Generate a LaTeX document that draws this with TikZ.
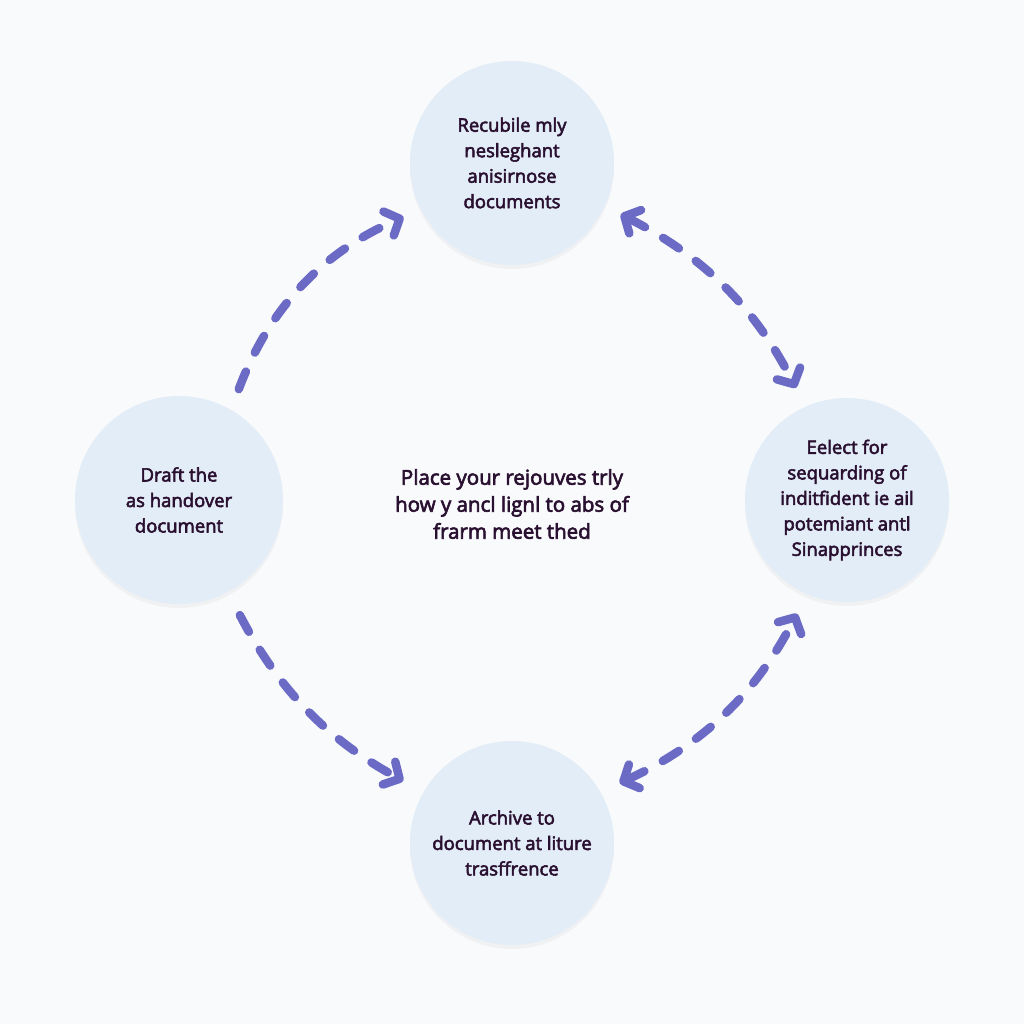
\documentclass[tikz,border=0pt]{standalone}
\usepackage{fontspec}
\setmainfont{Open Sans}[FakeBold=3]
\usetikzlibrary{arrows.meta,shadows}
\definecolor{bg}{HTML}{F8FAFC}
\definecolor{circfill}{HTML}{E3EDF8}
\definecolor{txt}{HTML}{2A1030}
\definecolor{arr}{HTML}{6B6BC6}
\begin{document}
\begin{tikzpicture}[x=1pt,y=-1pt,
  stepcirc/.style={circle, fill=circfill, minimum size=204pt, inner sep=0pt,
    align=center, text=txt, font=\fontsize{18.5}{25.5}\selectfont,
    drop shadow={opacity=0.07, shadow xshift=0pt, shadow yshift=-4pt}},
  flow/.style={draw=arr, line width=8.5pt, line cap=round,
    dash pattern=on 19pt off 21pt},
  headtip/.tip={Straight Barb[length=12pt,width=26pt,round]}
]
\fill[bg] (0,0) rectangle (1024,1024);
\useasboundingbox (0,0) rectangle (1024,1024);

\node[stepcirc] (top) at (512,163) {Recubile mly\\nesleghant\\anisirnose\\documents};
\node[stepcirc, minimum size=208pt] (left) at (179,500) {Draft the\\as handover\\document};
\node[stepcirc] (right) at (847,500) {Eelect for\\sequarding of\\inditfident ie ail\\potemiant antl\\Sinapprinces};
\node[stepcirc] (bottom) at (512,843) {Archive to\\document at liture\\trasffrence};

\node[text=txt, font=\fontsize{20.5}{27}\selectfont, align=center] (centre) at (512,504)
  {Place your rejouves trly\\how y ancl lignl to abs of\\frarm meet thed};

\draw[flow, -headtip, shorten <=22pt, shorten >=19pt] (left.60) to[bend left=23] (top.207);
\draw[flow, headtip-headtip, shorten <=18pt, shorten >=21pt] (top.335) to[bend left=18] (right.114);
\draw[flow, -headtip, shorten <=26pt, shorten >=23pt] (left.298) to[bend right=17] (bottom.150);
\draw[flow, headtip-headtip, shorten <=21pt, shorten >=22pt] (bottom.30) to[bend right=19] (right.247);
\end{tikzpicture}
\end{document}
